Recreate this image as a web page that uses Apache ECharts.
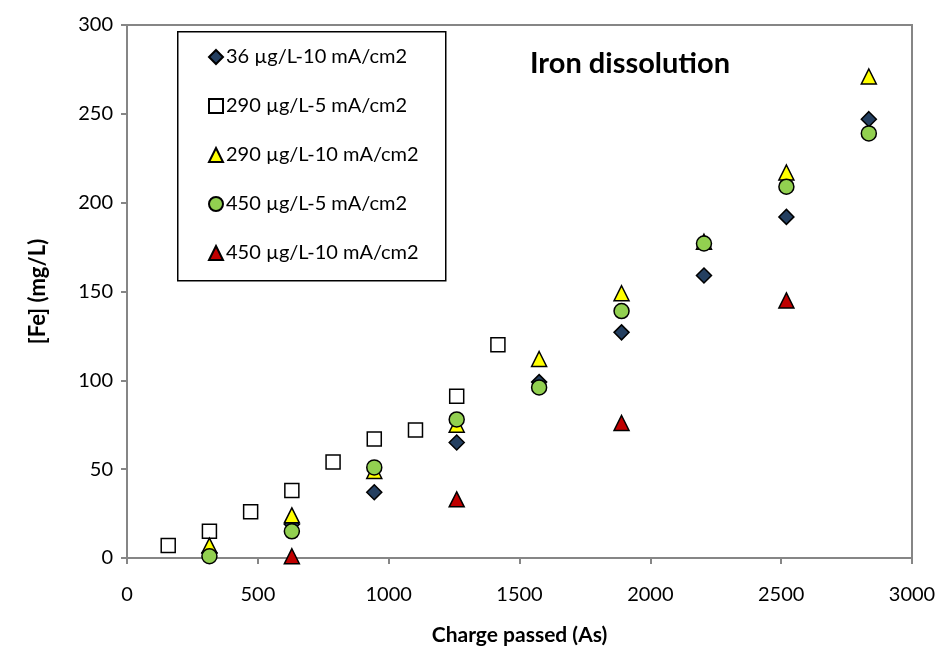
<!DOCTYPE html>
<html><head><meta charset="utf-8">
<script src="https://cdn.jsdelivr.net/npm/echarts@6/dist/echarts.min.js"></script>
<style>html,body{margin:0;padding:0;background:#fff}#c{width:948px;height:671px}</style>
</head><body><div id="c"></div>
<script>
var xTen = [315, 630, 945, 1260, 1575, 1890, 2205, 2520, 2835];
var xFive = [157.5, 315, 472.5, 630, 787.5, 945, 1102.5, 1260, 1417.5];
var xRed = [630, 1260, 1890, 2520];
var fe36_10 = [3, 19, 37, 65, 99, 127, 159, 192, 247];
var fe290_5 = [7, 15, 26, 38, 54, 67, 72, 91, 120];
var fe290_10 = [7, 24, 49, 75, 112, 149, 178, 217, 271];
var fe450_5 = [1, 15, 51, 78, 96, 139, 177, 209, 239];
var fe450_10 = [1, 33, 76, 145];
var seriesNames = ['36 µg/L-10 mA/cm2', '290 µg/L-5 mA/cm2', '290 µg/L-10 mA/cm2', '450 µg/L-5 mA/cm2', '450 µg/L-10 mA/cm2'];
var xTicks = [0, 500, 1000, 1500, 2000, 2500, 3000];
var yTicks = [0, 50, 100, 150, 200, 250, 300];

function pairs(xs, ys) { return xs.map(function (x, i) { return [x, ys[i]]; }); }
var FONT = 'Lato, "Open Sans", sans-serif';
var chart = echarts.init(document.getElementById('c'), null, { renderer: 'canvas' });
function mk(name, xs, ys, symbol, size, color) {
  return {
    name: name, type: 'scatter', data: pairs(xs, ys), symbol: symbol, symbolSize: size,
    itemStyle: { color: color, borderColor: '#000', borderWidth: 1.5, opacity: 1 },
    emphasis: { disabled: true }
  };
}
chart.setOption({
  animation: false,
  backgroundColor: '#fff',
  title: {
    text: 'Iron dissolution', left: 625, top: 44, textAlign: 'center',
    textStyle: { fontFamily: FONT, fontWeight: 'bold', fontSize: 29, color: '#000' }
  },
  grid: { left: 127, top: 25, right: 36, bottom: 113, show: true, borderColor: '#868686', borderWidth: 2, backgroundColor: 'transparent' },
  graphic: [{
    type: 'rect', left: 177, top: 31, shape: { width: 268, height: 249 },
    style: { fill: '#fff', stroke: '#000', lineWidth: 1.5 }, z: 5
  }],
  legend: {
    data: seriesNames, orient: 'vertical', left: 203, top: 42, itemWidth: 14, itemHeight: 14, itemGap: 29,
    textStyle: { fontFamily: FONT, fontSize: 20, color: '#000', padding: [0, 0, 0, -2] }, z: 10, selectedMode: false
  },
  xAxis: {
    type: 'value', min: 0, max: 3000, interval: 500,
    name: 'Charge passed (As)', nameLocation: 'middle', nameGap: 67,
    nameTextStyle: { fontFamily: FONT, fontWeight: 'bold', fontSize: 21, color: '#000' },
    axisLine: { show: true, lineStyle: { color: '#868686', width: 2 } },
    axisTick: { show: true, inside: false, length: 6, lineStyle: { color: '#868686', width: 2 } },
    axisLabel: { fontFamily: FONT, fontSize: 20, color: '#000', margin: 27, formatter: function (v) { return xTicks.indexOf(v) >= 0 ? String(v) : ''; } },
    splitLine: { show: false }
  },
  yAxis: {
    type: 'value', min: 0, max: 300, interval: 50,
    name: '[Fe] (mg/L)', nameLocation: 'middle', nameGap: 78, nameRotate: 90,
    nameTextStyle: { fontFamily: FONT, fontWeight: 'bold', fontSize: 22, color: '#000' },
    axisLine: { show: true, lineStyle: { color: '#868686', width: 2 } },
    axisTick: { show: true, inside: false, length: 6, lineStyle: { color: '#868686', width: 2 } },
    axisLabel: { fontFamily: FONT, fontSize: 20, color: '#000', margin: 14, formatter: function (v) { return yTicks.indexOf(v) >= 0 ? String(v) : ''; } },
    splitLine: { show: false }
  },
  series: [
    mk(seriesNames[0], xTen, fe36_10, 'diamond', 15, '#243F60'),
    mk(seriesNames[1], xFive, fe290_5, 'rect', 14, '#FFFFFF'),
    mk(seriesNames[2], xTen, fe290_10, 'triangle', 15, '#FFFF00'),
    mk(seriesNames[3], xTen, fe450_5, 'circle', 15, '#92D050'),
    mk(seriesNames[4], xRed, fe450_10, 'triangle', 15, '#C00000')
  ]
});
</script></body></html>
